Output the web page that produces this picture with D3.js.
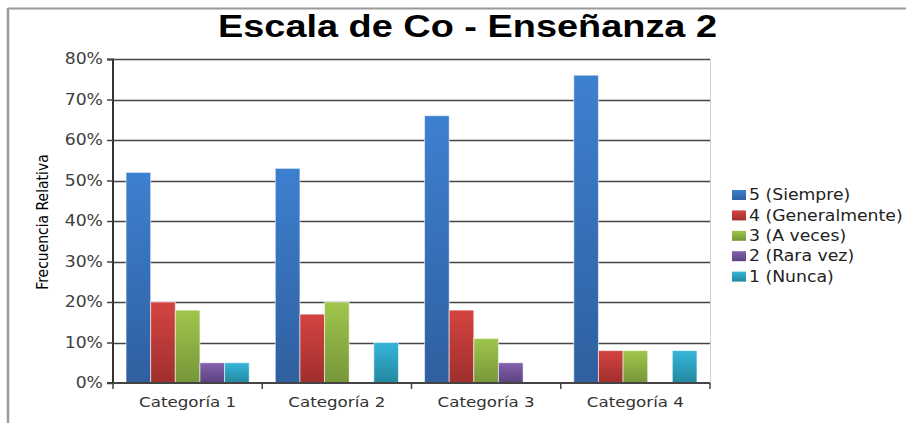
<!DOCTYPE html>
<html>
<head>
<meta charset="utf-8">
<script src="https://cdn.jsdelivr.net/npm/d3@7"></script>
<style>
  html, body { margin: 0; padding: 0; background: #fff; }
  svg { display: block; }
</style>
</head>
<body>
<div id="chart"></div>
<script>
const categories = ['Categoría 1', 'Categoría 2', 'Categoría 3', 'Categoría 4'];
const seriesNames = ['5 (Siempre)', '4 (Generalmente)', '3 (A veces)', '2 (Rara vez)', '1 (Nunca)'];
const siempre = [0.52, 0.53, 0.66, 0.76];
const generalmente = [0.20, 0.17, 0.18, 0.08];
const aVeces = [0.18, 0.20, 0.11, 0.08];
const raraVez = [0.05, 0, 0.05, 0];
const nunca = [0.05, 0.10, 0, 0.08];
const yTicks = [0, 0.1, 0.2, 0.3, 0.4, 0.5, 0.6, 0.7, 0.8];

const seriesValues = [siempre, generalmente, aVeces, raraVez, nunca];
const colors = [
  ['#3d80d0', '#2f5f9f'],
  ['#d44441', '#9f2f2d'],
  ['#a0c64c', '#76963a'],
  ['#8462ad', '#5c4280'],
  ['#36b6da', '#23879f'],
];

const W = 906, H = 423;
const margin = { top: 59, right: 196, bottom: 40, left: 113 };
const width = W - margin.left - margin.right;
const height = H - margin.top - margin.bottom;

// the original picture is a bit stretched sideways
const stretch = 1.15;
function widen(sel, anchor) {
  sel.each(function () {
    const len = this.getComputedTextLength();
    d3.select(this)
      .attr('textLength', len * stretch)
      .attr('lengthAdjust', 'spacingAndGlyphs');
  });
}

const svg = d3.select('#chart').append('svg')
  .attr('width', W)
  .attr('height', H);

// gradients for the bars
const defs = svg.append('defs');
colors.forEach((c, i) => {
  const g = defs.append('linearGradient')
    .attr('id', `grad${i}`)
    .attr('x1', 0).attr('y1', 0).attr('x2', 0).attr('y2', 1);
  g.append('stop').attr('offset', '0%').attr('stop-color', c[0]);
  g.append('stop').attr('offset', '100%').attr('stop-color', c[1]);
});

// outer frame (only top and left visible)
svg.append('line')
  .attr('x1', 8).attr('x2', W).attr('y1', 8.5).attr('y2', 8.5)
  .attr('stroke', '#9a9a9a').attr('stroke-width', 2);
svg.append('line')
  .attr('x1', 8).attr('x2', 8).attr('y1', 8).attr('y2', H)
  .attr('stroke', '#9a9a9a').attr('stroke-width', 2.5);

svg.append('text')
  .attr('x', 467.5)
  .attr('y', 37)
  .attr('text-anchor', 'middle')
  .attr('font-family', 'Liberation Sans, Arial, sans-serif')
  .attr('font-weight', 'bold')
  .attr('font-size', '32px')
  .attr('fill', '#000')
  .attr('textLength', 499)
  .attr('lengthAdjust', 'spacingAndGlyphs')
  .text('Escala de Co - Enseñanza 2');

const el = svg.append('g')
  .attr('transform', `translate(${margin.left}, ${margin.top})`);

const xScale = d3.scaleBand()
  .domain(categories)
  .range([0, width]);

const xInner = d3.scaleBand()
  .domain(d3.range(seriesNames.length))
  .range([0, xScale.bandwidth()])
  .paddingOuter(0.53);

const yScale = d3.scaleLinear()
  .domain([0, 0.8])
  .range([height, 0]);

// gridlines
el.append('g')
  .selectAll('line')
  .data(yTicks.slice(1))
  .join('line')
  .attr('x1', 0)
  .attr('x2', width)
  .attr('y1', d => Math.round(yScale(d)) + 0.5)
  .attr('y2', d => Math.round(yScale(d)) + 0.5)
  .attr('stroke', '#454545')
  .attr('stroke-width', 1.6);

// right border of plot area
el.append('line')
  .attr('x1', width + 0.5).attr('x2', width + 0.5)
  .attr('y1', 0).attr('y2', height)
  .attr('stroke', '#d0d0d0');

// bars
const groups = el.append('g')
  .selectAll('g')
  .data(categories)
  .join('g')
  .attr('transform', d => `translate(${xScale(d)}, 0)`);

groups.selectAll('rect')
  .data((d, ci) => seriesValues.map((s, si) => ({ si, v: s[ci] })))
  .join('rect')
  .attr('x', d => xInner(d.si))
  .attr('width', xInner.bandwidth())
  .attr('y', d => yScale(d.v))
  .attr('height', d => height - yScale(d.v))
  .attr('fill', d => `url(#grad${d.si})`)
  .attr('stroke', d => d.v > 0 ? 'rgba(255,255,255,0.55)' : 'none')
  .attr('stroke-width', 1);

// y axis
const yAxis = d3.axisLeft(yScale)
  .tickValues(yTicks)
  .tickSize(6)
  .tickPadding(4)
  .tickFormat(d3.format('.0%'));

const yG = el.append('g').call(yAxis);
yG.select('.domain').attr('stroke', '#333').attr('stroke-width', 2).attr('d', `M-6,0.5H0V${height}H-6`);
yG.selectAll('.tick line').attr('stroke', '#444').attr('stroke-width', 1.5);
yG.selectAll('text')
  .attr('font-family', 'DejaVu Sans, Verdana, sans-serif')
  .attr('font-size', '15px')
  .attr('fill', '#404040')
  .call(widen);

// x axis
const xAxis = d3.axisBottom(xScale)
  .tickSize(0)
  .tickPadding(14);

const xG = el.append('g')
  .attr('transform', `translate(0, ${height})`)
  .call(xAxis);
xG.select('.domain').attr('stroke', '#444').attr('stroke-width', 2).attr('d', `M0,0H${width}`);
xG.selectAll('text')
  .attr('font-family', 'DejaVu Sans, Verdana, sans-serif')
  .attr('font-size', '14.5px')
  .attr('fill', '#333')
  .call(widen);

// category separator ticks
el.append('g')
  .selectAll('line')
  .data(categories.map(c => xScale(c)).concat([width]))
  .join('line')
  .attr('x1', d => d).attr('x2', d => d)
  .attr('y1', height).attr('y2', height + 6)
  .attr('stroke', '#444').attr('stroke-width', 1.5);

// y axis label
svg.append('text')
  .attr('transform', `translate(48, ${222}) rotate(-90)`)
  .attr('text-anchor', 'middle')
  .attr('font-family', 'Liberation Sans Narrow, DejaVu Sans Condensed, sans-serif')
  .attr('font-size', '15.5px')
  .attr('fill', '#000')
  .text('Frecuencia Relativa');

// legend
const legend = svg.append('g')
  .attr('transform', 'translate(732, 195)');

const item = legend.selectAll('g')
  .data(seriesNames)
  .join('g')
  .attr('transform', (d, i) => `translate(0, ${i * 20.4})`);

item.append('rect')
  .attr('x', 0).attr('y', -5)
  .attr('width', 14).attr('height', 10)
  .attr('fill', (d, i) => `url(#grad${i})`);

item.append('text')
  .attr('x', 17)
  .attr('y', 0)
  .attr('dy', '.35em')
  .attr('font-family', 'DejaVu Sans, Verdana, sans-serif')
  .attr('font-size', '15px')
  .attr('fill', '#222')
  .call(widen);

item.select('text').text(d => d).call(widen);
</script>
</body>
</html>
